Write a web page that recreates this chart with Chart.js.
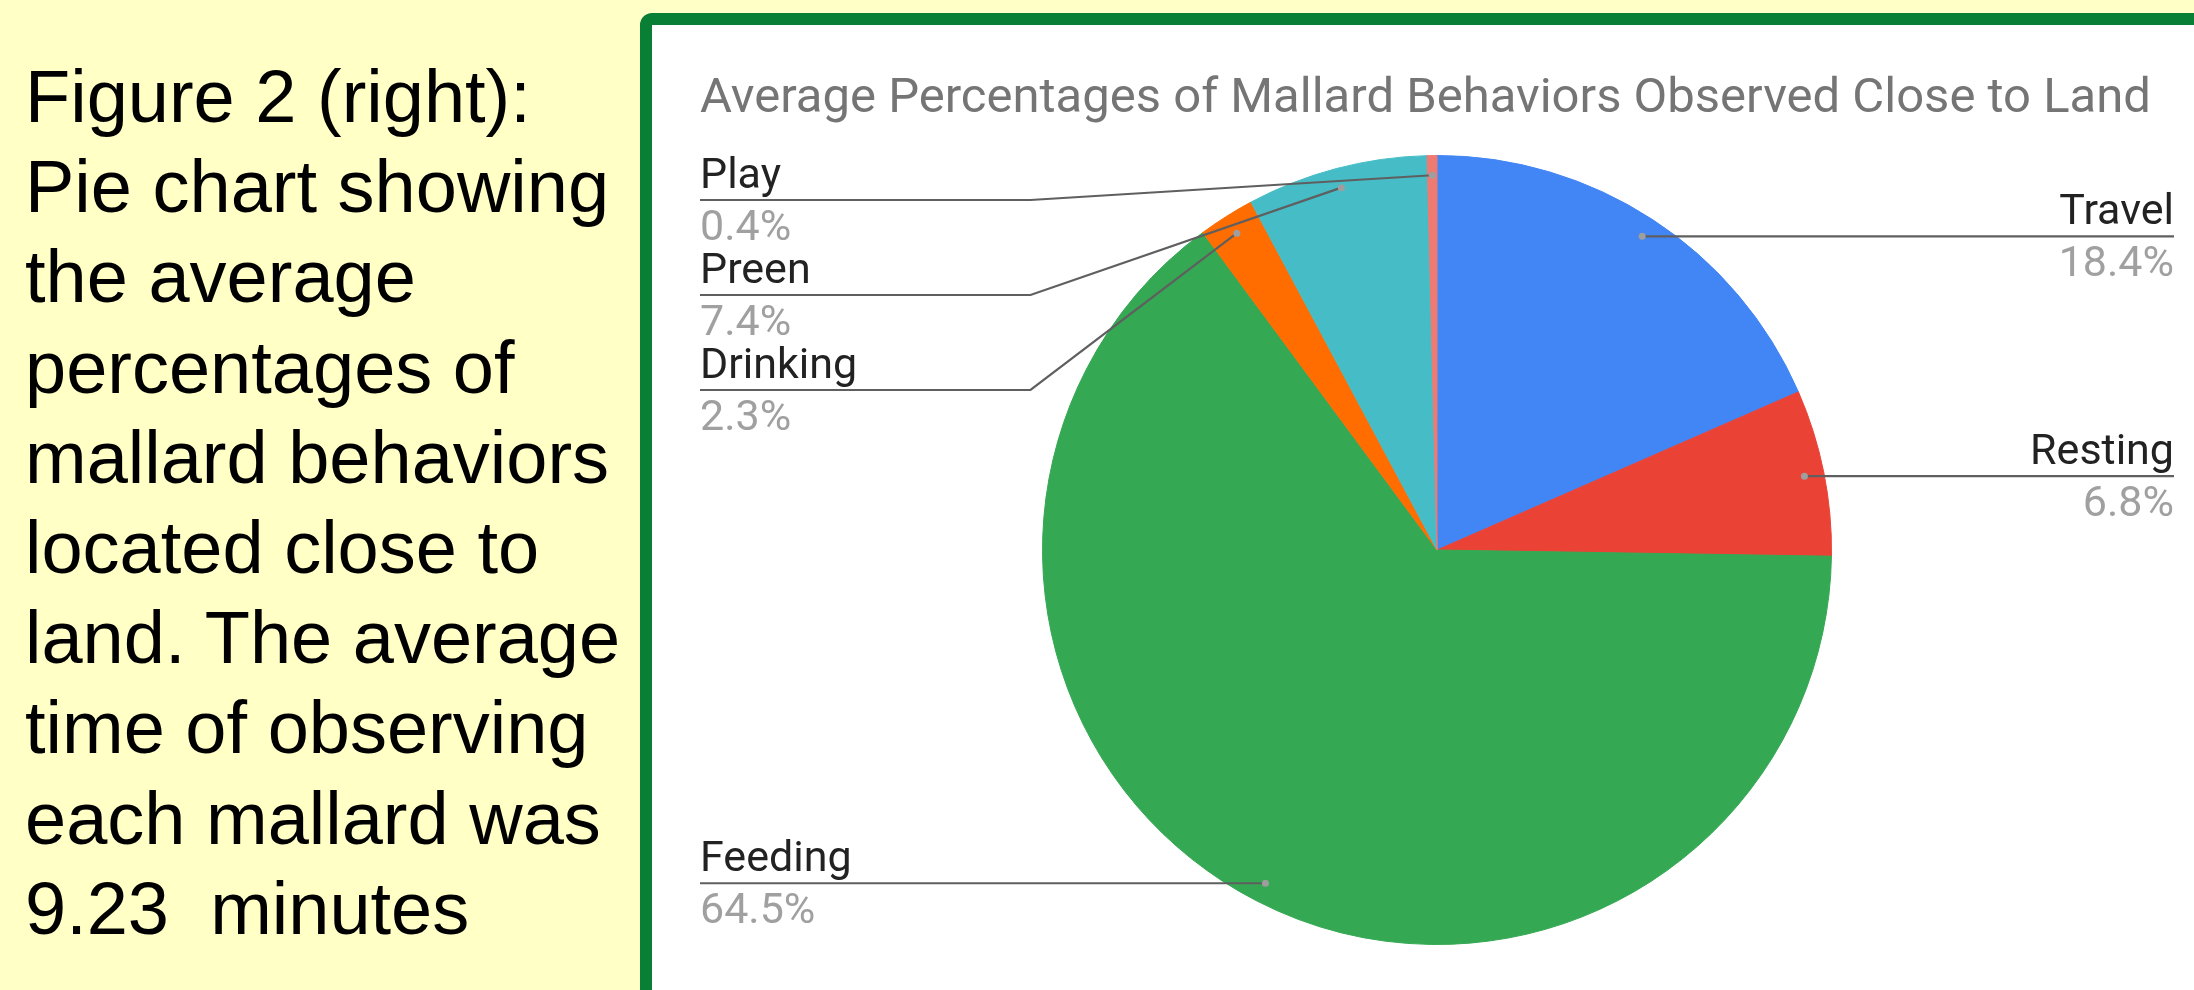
<!DOCTYPE html>
<html>
<head>
<meta charset="utf-8">
<script src="https://cdn.jsdelivr.net/npm/chart.js@4.4.0/dist/chart.umd.min.js"></script>
<style>
    html, body {
        margin: 0;
        padding: 0;
        width: 2194px;
        height: 990px;
        overflow: hidden;
        background: #ffffc6;
    }
    #legende {
        position: absolute;
        left: 25px;
        top: 52px;
        font-family: "Liberation Sans", Arial, sans-serif;
        font-size: 74px;
        line-height: 90.2px;
        color: #000;
        white-space: pre;
    }
    #cadre {
        position: absolute;
        left: 640px;
        top: 13px;
        width: 1600px;
        height: 1020px;
        border: 12px solid #087f35;
        border-radius: 12px;
        background: #fff;
    }
    #graphique {
        position: absolute;
        left: 652px;
        top: 25px;
    }
</style>
</head>
<body>
<div id="legende">Figure 2 (right):
Pie chart showing
the average
percentages of
mallard behaviors
located close to
land. The average
time of observing
each mallard was
9.23  minutes</div>
<div id="cadre"></div>
<canvas id="graphique" width="1542" height="965"></canvas>

<script>
// Données
const comportements = ["Travel", "Resting", "Feeding", "Drinking", "Preen", "Play"];
const pourcentages = [18.4, 6.8, 64.5, 2.3, 7.4, 0.4];
const couleurs = ["#4285f4", "#ea4335", "#34a853", "#ff6d01", "#46bdc6", "#ee7a72"];
const titre = "Average Percentages of Mallard Behaviors Observed Close to Land";

// Étiquettes à l'extérieur avec traits de rappel (style Google Sheets)
const etiquettesExterieures = {
    id: 'etiquettesExterieures',
    afterDraw(chart) {
        const ctx = chart.ctx;
        const zone = chart.chartArea;
        const meta = chart.getDatasetMeta(0);
        const points = [];

        meta.data.forEach((arc, i) => {
            const p = arc.getProps(['x', 'y', 'startAngle', 'endAngle', 'outerRadius'], true);
            const milieu = (p.startAngle + p.endAngle) / 2;
            const px = p.x + Math.cos(milieu) * p.outerRadius * 0.95;
            const py = p.y + Math.sin(milieu) * p.outerRadius * 0.95;
            points.push({
                i, px, py,
                cx: p.x, r: p.outerRadius,
                gauche: px < p.x
            });
        });

        const ecart = 95;
        const yMin = zone.top + 45;
        [true, false].forEach(cote => {
            const groupe = points.filter(pt => pt.gauche === cote).sort((a, b) => a.py - b.py);
            let precedent = -Infinity;
            groupe.forEach(pt => {
                pt.ly = Math.max(pt.py, precedent + ecart, yMin);
                precedent = pt.ly;
            });
        });

        ctx.save();
        points.forEach(pt => {
            const xBord = pt.gauche ? zone.left : zone.right;
            const xCoude = pt.gauche ? pt.cx - pt.r - 12 : pt.cx + pt.r + 12;

            ctx.strokeStyle = '#5f5f5f';
            ctx.lineWidth = 2.2;
            ctx.beginPath();
            ctx.moveTo(xBord, pt.ly);
            if (Math.abs(pt.ly - pt.py) > 0.5) {
                ctx.lineTo(xCoude, pt.ly);
            }
            ctx.lineTo(pt.px, pt.py);
            ctx.stroke();

            ctx.fillStyle = '#9e9e9e';
            ctx.beginPath();
            ctx.arc(pt.px, pt.py, 3.5, 0, Math.PI * 2);
            ctx.fill();

            ctx.textAlign = pt.gauche ? 'left' : 'right';
            ctx.textBaseline = 'alphabetic';
            ctx.font = '43px Roboto, "Liberation Sans", sans-serif';
            ctx.fillStyle = '#222222';
            ctx.fillText(comportements[pt.i], xBord, pt.ly - 12);
            ctx.fillStyle = '#a0a0a0';
            ctx.fillText(pourcentages[pt.i].toFixed(1) + '%', xBord, pt.ly + 40);
        });
        ctx.restore();
    }
};

new Chart(document.getElementById('graphique'), {
    type: 'pie',
    data: {
        labels: comportements,
        datasets: [{
            data: pourcentages,
            backgroundColor: couleurs,
            borderColor: couleurs,
            borderWidth: 1
        }]
    },
    options: {
        responsive: false,
        animation: false,
        layout: {
            padding: { left: 48, right: 20, top: 0, bottom: 45 }
        },
        plugins: {
            legend: { display: false },
            tooltip: { enabled: false },
            title: {
                display: true,
                text: titre,
                align: 'start',
                color: '#757575',
                font: { family: 'Roboto', size: 49, weight: 'normal', lineHeight: 1.2 },
                padding: { top: 45.6, bottom: 25.6 }
            }
        }
    },
    plugins: [etiquettesExterieures]
});
</script>
</body>
</html>
